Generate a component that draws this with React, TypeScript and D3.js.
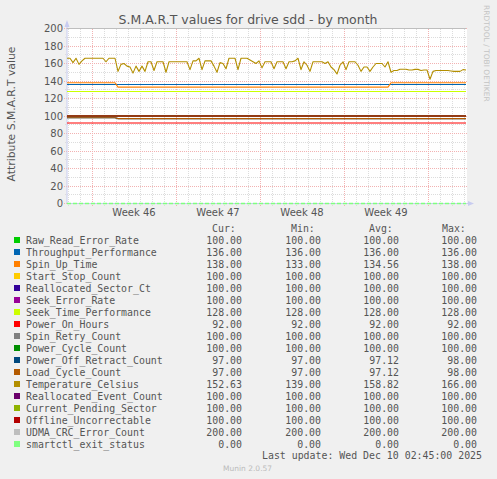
import React, { useEffect } from "react";
import * as d3 from "d3";

const WIDTH = 497;
const HEIGHT = 479;

const seriesNames = [
  "Raw_Read_Error_Rate",
  "Throughput_Performance",
  "Spin_Up_Time",
  "Start_Stop_Count",
  "Reallocated_Sector_Ct",
  "Seek_Error_Rate",
  "Seek_Time_Performance",
  "Power_On_Hours",
  "Spin_Retry_Count",
  "Power_Cycle_Count",
  "Power_Off_Retract_Count",
  "Load_Cycle_Count",
  "Temperature_Celsius",
  "Reallocated_Event_Count",
  "Current_Pending_Sector",
  "Offline_Uncorrectable",
  "UDMA_CRC_Error_Count",
  "smartctl_exit_status",
];

const seriesColors = [
  "#00CC00", "#0066B3", "#FF8000", "#FFCC00", "#330099", "#990099",
  "#CCFF00", "#FF0000", "#808080", "#008F00", "#00487D", "#B35A00",
  "#B38F00", "#6B006B", "#8FB300", "#B30000", "#BEBEBE", "#80FF80",
];

const curValues = [100, 136, 138, 100, 100, 100, 128, 92, 100, 100, 97, 97, 152.63, 100, 100, 100, 200, 0];
const minValues = [100, 136, 133, 100, 100, 100, 128, 92, 100, 100, 97, 97, 139, 100, 100, 100, 200, 0];
const avgValues = [100, 136, 134.56, 100, 100, 100, 128, 92, 100, 100, 97.12, 97.12, 158.82, 100, 100, 100, 200, 0];
const maxValues = [100, 136, 138, 100, 100, 100, 128, 92, 100, 100, 98, 98, 166, 100, 100, 100, 200, 0];

// piecewise-constant series: levels and the sample index where each level begins
const seriesLevels: (number[] | null)[] = [
  [100], [136], [138, 133, 138], [100], [100], [100], [128], [92], [100], [100],
  [98, 97], [98, 97], null, [100], [100], [100], [200], [0],
];
const seriesLevelStarts: (number[] | null)[] = [
  [0], [0], [0, 17, 108], [0], [0], [0], [0], [0], [0], [0],
  [0, 17], [0, 17], null, [0], [0], [0], [0], [0],
];

// Temperature_Celsius, one sample every 6 hours
const temperatureValues = [
  166, 166, 161, 166, 159, 163, 166, 166, 166, 166,
  166, 166, 166, 162, 166, 166, 166, 151, 159, 160,
  157, 156, 149, 157, 151, 157, 151, 162, 162, 152,
  162, 162, 162, 150, 162, 162, 162, 162, 162, 162,
  162, 153, 163, 163, 166, 153, 163, 163, 163, 157,
  150, 161, 160, 154, 166, 166, 166, 153, 166, 166,
  166, 164, 162, 160, 163, 155, 162, 162, 162, 154,
  162, 162, 162, 154, 162, 162, 163, 166, 153, 162,
  158, 151, 162, 162, 162, 162, 160, 162, 156, 153,
  148, 158, 162, 153, 162, 162, 162, 158, 151, 156,
  156, 151, 156, 160, 160, 160, 156, 162, 150, 152,
  152, 153.5, 153.5, 153.5, 152.6, 152.6, 153.3, 153.3, 152, 152.6,
  152.6, 142, 151, 152, 152, 152, 152, 152, 151.5, 151,
  151, 151, 153, 152.6,
];

const yTickValues = [0, 20, 40, 60, 80, 100, 120, 140, 160, 180, 200];
const yMinorValues = [10, 30, 50, 70, 90, 110, 130, 150, 170, 190];

const startTime = new Date(Date.UTC(2025, 10, 7, 22, 0, 0));
const endTime = new Date(startTime.getTime() + 800 * 3600 * 1000);
const sampleHours = 6;

const lastUpdate = "Last update: Wed Dec 10 02:45:00 2025";

const PLOT_LEFT = 67;
const PLOT_RIGHT = 467;
const PLOT_TOP = 28.5;
const PLOT_BOTTOM = 203.5;

const SANS = "'DejaVu Sans', Verdana, sans-serif";
const MONO = "'DejaVu Sans Mono', monospace";

export default function App() {
  useEffect(() => {
    document.body.style.margin = "0";
    document.body.style.background = "#F0F0F0";
  }, []);

  const x = d3.scaleUtc().domain([startTime, endTime]).range([PLOT_LEFT, PLOT_RIGHT]);
  const y = d3.scaleLinear().domain([0, 200]).range([PLOT_BOTTOM, PLOT_TOP]);

  const nSamples = temperatureValues.length;
  const sampleTimes = d3.range(nSamples).map(
    (i) => new Date(startTime.getTime() + i * sampleHours * 3600 * 1000)
  );

  const seriesData: number[][] = seriesNames.map((_, s) => {
    if (s === 12) return temperatureValues;
    const levels = seriesLevels[s]!;
    const starts = seriesLevelStarts[s]!;
    return sampleTimes.map((_, i) => {
      let v = levels[0];
      starts.forEach((st, k) => {
        if (i >= st) v = levels[k];
      });
      return v;
    });
  });

  const line = d3
    .line<number>()
    .x((_, i) => x(sampleTimes[i]))
    .y((d) => y(d));

  const days = d3.utcDay.range(d3.utcDay.ceil(startTime), endTime);
  const mondays = d3.utcMonday.range(d3.utcMonday.ceil(startTime), endTime);
  const weekLabels = d3.utcMonday
    .range(d3.utcMonday.floor(startTime), endTime)
    .map((m) => ({ t: new Date(m.getTime() + 3.5 * 86400000), label: "Week " + d3.utcFormat("%V")(m) }))
    .filter((w) => w.t > startTime && w.t < endTime);

  const minorGrid = "#DCDCDC";
  const majorGrid = "#F2B2B2";
  const textColor = "#555555";
  const axisColor = "#C8CCF0";

  const legendTop = 240;
  const rowH = 12;
  const fmt = (v: number) => v.toFixed(2);

  return (
    <svg
      width={WIDTH}
      height={HEIGHT}
      style={{ display: "block" }}
      xmlns="http://www.w3.org/2000/svg"
    >
      <rect x={0} y={0} width={WIDTH} height={HEIGHT} fill="#F0F0F0" />
      <rect
        x={PLOT_LEFT}
        y={PLOT_TOP}
        width={PLOT_RIGHT - PLOT_LEFT}
        height={PLOT_BOTTOM - PLOT_TOP}
        fill="#FFFFFF"
      />

      <text x={248} y={24} textAnchor="middle" fontFamily={SANS} fontSize={12.5} fill={textColor}>
        S.M.A.R.T values for drive sdd - by month
      </text>

      <text
        transform={`translate(15,114) rotate(-90)`}
        textAnchor="middle"
        fontFamily={SANS}
        fontSize={10.8}
        fill={textColor}
      >
        Attribute S.M.A.R.T value
      </text>

      <text
        transform={`translate(484,5) rotate(90)`}
        textAnchor="start"
        fontFamily={SANS}
        fontSize={7.5}
        fill="#C4C4C4"
      >
        RRDTOOL / TOBI OETIKER
      </text>

      {/* grid */}
      <g shapeRendering="crispEdges">
        {days.map((d, i) => (
          <line
            key={"d" + i}
            x1={x(d)}
            x2={x(d)}
            y1={PLOT_TOP}
            y2={PLOT_BOTTOM + 2}
            stroke={minorGrid}
            strokeDasharray="1 1"
          />
        ))}
        {yMinorValues.map((v) => (
          <line
            key={"ym" + v}
            x1={PLOT_LEFT - 2}
            x2={PLOT_RIGHT}
            y1={y(v)}
            y2={y(v)}
            stroke={minorGrid}
            strokeDasharray="1 1"
          />
        ))}
        {mondays.map((d, i) => (
          <line
            key={"m" + i}
            x1={x(d)}
            x2={x(d)}
            y1={PLOT_TOP}
            y2={PLOT_BOTTOM + 3}
            stroke={majorGrid}
            strokeDasharray="1 1"
          />
        ))}
        {yTickValues.map((v) => (
          <line
            key={"yM" + v}
            x1={PLOT_LEFT - 3}
            x2={PLOT_RIGHT}
            y1={y(v)}
            y2={y(v)}
            stroke={majorGrid}
            strokeDasharray="1 1"
          />
        ))}
      </g>

      {yTickValues.map((v) => (
        <text
          key={"yt" + v}
          x={63}
          y={y(v) + 3.6}
          textAnchor="end"
          fontFamily={SANS}
          fontSize={10}
          fill={textColor}
        >
          {v}
        </text>
      ))}

      {weekLabels.map((w, i) => (
        <text
          key={"w" + i}
          x={x(w.t)}
          y={216}
          textAnchor="middle"
          fontFamily={SANS}
          fontSize={10}
          fill={textColor}
        >
          {w.label}
        </text>
      ))}

      {/* axes */}
      <line x1={PLOT_LEFT} x2={PLOT_LEFT} y1={PLOT_BOTTOM} y2={22} stroke={axisColor} strokeWidth={1} />
      <line x1={PLOT_LEFT} x2={PLOT_RIGHT + 2} y1={PLOT_BOTTOM} y2={PLOT_BOTTOM} stroke={axisColor} strokeWidth={1} />

      {/* series */}
      {seriesData.map((d, s) => (
        <path
          key={"s" + s}
          d={line(d) || ""}
          fill="none"
          stroke={seriesColors[s]}
          strokeWidth={s === 17 ? 1.4 : 1.1}
          strokeDasharray={s === 17 ? "4 2" : undefined}
          strokeLinejoin="round"
        />
      ))}

      {/* arrows */}
      <path d={`M${PLOT_LEFT - 2.5},27 L${PLOT_LEFT + 2.5},27 L${PLOT_LEFT},20 Z`} fill={axisColor} />
      <path
        d={`M${PLOT_RIGHT + 1},${PLOT_BOTTOM - 2.5} L${PLOT_RIGHT + 1},${PLOT_BOTTOM + 2.5} L${PLOT_RIGHT + 7},${PLOT_BOTTOM} Z`}
        fill={axisColor}
      />

      {/* legend */}
      <g fontFamily={MONO} fontSize={9.9} fill={textColor}>
        <text x={212} y={231.5}>Cur:</text>
        <text x={291} y={231.5}>Min:</text>
        <text x={369} y={231.5}>Avg:</text>
        <text x={442} y={231.5}>Max:</text>
        {seriesNames.map((name, i) => {
          const cy = legendTop + i * rowH;
          return (
            <g key={"l" + i}>
              <rect x={14} y={cy - 3} width={6} height={6} fill={seriesColors[i]} />
              <text x={26} y={cy + 3.6}>{name}</text>
              <text x={242} y={cy + 3.6} textAnchor="end">{fmt(curValues[i])}</text>
              <text x={321} y={cy + 3.6} textAnchor="end">{fmt(minValues[i])}</text>
              <text x={399} y={cy + 3.6} textAnchor="end">{fmt(avgValues[i])}</text>
              <text x={477} y={cy + 3.6} textAnchor="end">{fmt(maxValues[i])}</text>
            </g>
          );
        })}
        <text x={262} y={459}>{lastUpdate}</text>
      </g>

      <text x={223} y={471} fontFamily={SANS} fontSize={7.5} fill="#BBBBBB">
        Munin 2.0.57
      </text>
    </svg>
  );
}
